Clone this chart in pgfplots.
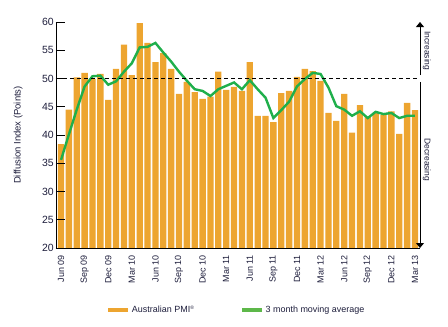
\documentclass[border=0pt]{standalone}
\usepackage{fontspec}
\setmainfont{Liberation Sans}
\usepackage{pgfplots}
\usepackage{pgfplotstable}
\pgfplotsset{compat=1.18}
\usetikzlibrary{arrows.meta}
\definecolor{barc}{HTML}{EDA530}
\definecolor{linec}{HTML}{1FAF4B}
\definecolor{legc}{HTML}{5DB84A}
\definecolor{txt}{HTML}{1E1E3C}
\pgfplotstableread{
idx pmi ma
0 38.4 35.6
1 44.5 40.1
2 50.2 44.5
3 51.0 48.6
4 49.9 50.4
5 50.8 50.5
6 46.2 48.9
7 51.7 49.5
8 56.0 51.2
9 50.6 52.7
10 59.8 55.5
11 56.3 55.6
12 52.9 56.3
13 54.5 54.6
14 51.7 53.0
15 47.3 51.2
16 49.4 49.6
17 47.6 48.1
18 46.4 47.8
19 46.8 46.9
20 51.2 48.1
21 48.0 48.7
22 48.5 49.3
23 47.8 48.1
24 52.9 49.7
25 43.4 48.1
26 43.4 46.6
27 42.3 43.0
28 47.4 44.4
29 47.8 45.9
30 50.3 48.6
31 51.7 49.9
32 51.3 51.0
33 49.6 50.8
34 43.9 48.4
35 42.5 45.1
36 47.3 44.5
37 40.4 43.4
38 45.3 44.2
39 43.2 43.0
40 43.9 44.1
41 43.5 43.7
42 44.2 43.9
43 40.2 43.0
44 45.7 43.4
45 44.4 43.4
}\pmidata
\begin{document}
\begin{tikzpicture}
\begin{axis}[
  at={(0,0)}, anchor=south west,
  scale only axis, width=364bp, height=226bp,
  xmin=-0.64, xmax=45.64, ymin=20, ymax=60,
  axis x line*=bottom, axis y line*=left,
  axis line style={line width=0.8bp, -},
  clip mode=individual,
  axis on top,
  ytick={20,25,...,60},
  xtick={0,3,...,45},
  xticklabels={Jun 09,Sep 09,Dec 09,Mar 10,Jun 10,Sep 10,Dec 10,Mar 11,Jun 11,Sep 11,Dec 11,Mar 12,Jun 12,Sep 12,Dec 12,Mar 13},
  x tick style={draw=none},
  y tick style={line width=0.8bp, black},
  tick align=inside,
  major tick length=9bp,
  xticklabel style={rotate=90, anchor=east, font=\fontsize{9}{10}\selectfont, text=txt, inner sep=0pt},
  xticklabel shift=7bp,
  yticklabel style={font=\fontsize{10.5}{12}\selectfont, text=txt, inner sep=2bp},
  /pgf/number format/assume math mode=true,
  ylabel={Diffusion Index (Points)},
  ylabel style={at={(axis description cs:-0.104,0.5)}, anchor=center, font=\fontsize{9.5}{11}\selectfont, text=txt},
  legend columns=2,
  legend style={at={(axis description cs:0.496,-0.274)}, anchor=center, draw=none, fill=none,
    font=\fontsize{9}{10}\selectfont, text=txt,
    /tikz/every even column/.append style={column sep=44bp}},
]
\addplot[ybar, bar width=6.3bp, fill=barc, draw=none,
  legend image code/.code={\draw[barc, line width=3.2bp] (0bp,0bp) -- (20bp,0bp);}]
  table[x=idx, y=pmi] {\pmidata};
\addlegendentry{Australian PMI\textsuperscript{\tiny®}}
\addplot[linec, line width=2.4bp, sharp plot, mark=none,
  legend image code/.code={\draw[legc, line width=3.2bp] (0bp,0bp) -- (20bp,0bp);}]
  table[x=idx, y=ma] {\pmidata};
\addlegendentry{3 month moving average}
\draw[black, line width=0.8bp, dash pattern=on 4bp off 3bp] (axis cs:-0.64,50) -- (axis cs:45.55,50);
\draw[black, line width=0.8bp, -{Triangle[width=8bp,length=5bp]}] (axis cs:45.64,50.6) -- (axis cs:45.64,60);
\draw[black, line width=0.8bp, -{Triangle[width=8bp,length=5bp]}] (axis cs:45.64,49.4) -- (axis cs:45.64,20);
\node[rotate=-90, anchor=center, font=\fontsize{8.5}{10}\selectfont, text=txt] at (axis cs:46.5,54.9) {Increasing};
\node[rotate=-90, anchor=center, font=\fontsize{8.5}{10}\selectfont, text=txt] at (axis cs:46.5,35.6) {Decreasing};
\end{axis}
\path[use as bounding box] (-56bp,-79bp) rectangle (392bp,248bp);
\end{tikzpicture}
\end{document}
